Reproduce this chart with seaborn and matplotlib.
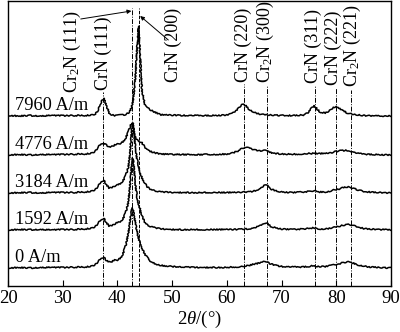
import numpy as np
import pandas as pd
import matplotlib
matplotlib.use("Agg")
import matplotlib.pyplot as plt
import seaborn as sns

# 2θ sampling positions (degrees)
two_theta = [20, 22, 24, 26, 28, 30, 32, 34, 35, 35.5, 36, 36.5, 37, 37.5, 38, 38.5,
             39, 39.5, 40, 40.5, 41, 41.5, 42, 42.3, 42.6, 42.8, 43.0, 43.3, 43.6, 43.9,
             44.2, 44.5, 45, 45.5, 46, 47, 48, 50, 52, 54, 56, 58, 60, 61, 62, 62.5,
             63, 63.5, 64, 65, 66, 66.5, 67, 67.5, 68, 69, 70, 72, 74, 75, 75.5, 76,
             76.5, 77, 78, 79, 79.5, 80, 80.5, 81, 82, 82.5, 83, 84, 85, 86, 88, 90]

# diffracted intensity above each pattern's own baseline (a.u.)
i_0 = [0, 0.5, 0, 0.5, 0.5, 0.5, 0.8, 1, 1.5, 2, 3.5, 6.5, 9.5, 11, 7.5, 6,
       6.5, 8, 8, 9.5, 14, 22, 35, 47, 58, 60, 54, 44, 36, 29,
       24, 20, 14, 10, 7, 4, 2.5, 1.5, 1, 0.5, 0.5, 0.5, 0.5, 1, 1, 1.5,
       1.5, 2, 2.5, 4, 5, 6, 6.5, 5.5, 4, 2.5, 1.5, 1, 1, 1.5, 2, 2,
       1.5, 1.5, 1.5, 2.5, 3, 3.5, 4, 5, 6, 6, 5, 3, 2, 1, 0.5, 0]
i_1592 = [0, 0.5, 0.3, 0.5, 0, 0.5, 0.5, 1, 1.5, 2, 3.5, 7, 10, 12, 7, 4,
          4.5, 6, 7.5, 8.5, 11, 17, 28, 45, 65, 72, 64, 45, 32, 25,
          20, 14, 8, 5, 3.5, 2, 1, 0.5, 0.3, 0.5, 0.3, 0.5, 0.5, 0.5, 0.5, 0.8,
          1, 1, 1, 2, 4, 5.5, 7, 6, 3.5, 2, 1, 0.5, 1, 1.5, 2, 2,
          1.5, 1, 1, 2, 2.5, 3, 3.5, 4.5, 5.5, 5.5, 4.5, 3, 1.5, 1, 0.5, 0]
i_3184 = [0, 0.3, 0.5, 0, 0.5, 0.5, 0.5, 1, 1.5, 2, 3.5, 7, 11, 13, 8, 5,
          5.5, 7, 8, 9.5, 12, 17, 26, 40, 62, 70, 62, 45, 33, 26,
          19, 15, 10, 6, 4, 2, 1, 0.5, 0.5, 0.3, 0.5, 0.5, 0.5, 0.5, 0.5, 0.8,
          0.8, 1, 1, 2, 4, 6, 8, 7, 4, 2, 1, 0.5, 1, 1.5, 2, 2,
          1.5, 1, 1, 2, 3, 3.5, 4, 5, 6, 6, 5, 3, 1.5, 1, 0.5, 0]
i_4776 = [0, 0.5, 0, 0.5, 0.3, 0.5, 0.8, 1, 1.5, 2, 4, 8, 11, 12, 10, 8,
          8.5, 10, 11, 11.5, 13, 17, 23, 28, 32, 30, 24, 17, 15, 14,
          13, 12, 8, 5, 3.5, 2, 1, 0.5, 0.5, 0.3, 0.5, 0.5, 1, 2, 4, 6,
          7, 8, 7, 5, 4, 4.5, 5, 4, 2.5, 1.5, 1, 0.8, 1, 1.5, 1.5, 2,
          1.5, 1.5, 1.5, 2, 3, 3.5, 4, 4.5, 4.5, 4, 3, 1.5, 1, 0.5, 0.3, 0]
i_7960 = [0.5, 0, 0.5, 0, 0.5, 0.3, 0.5, 0.5, 0.8, 1, 2, 6, 14, 18, 10, 3,
          1, 0.5, 0.5, 1, 1, 1.5, 3, 5, 9, 14, 22, 40, 70, 90,
          55, 25, 12, 9, 6, 3.5, 1.2, 0.8, 0.5, 0.5, 0.3, 0.5, 1, 2.5, 7, 10,
          12, 10, 7, 3.5, 2, 1.5, 1.2, 1, 1, 0.8, 0.5, 0.5, 1, 4, 8, 10,
          7, 4, 3, 6, 8.5, 9.5, 8, 6, 3, 2.5, 1.5, 1, 0.5, 0.3, 0, 0]

field_labels = ["0 A/m", "1592 A/m", "3184 A/m", "4776 A/m", "7960 A/m"]
baselines = [18, 56, 93, 131, 170]

# reflection markers
peak_labels = ["Cr$_2$N (111)", "CrN (111)", "CrN (200)", "CrN (220)", "Cr$_2$N (300)",
               "CrN (311)", "CrN (222)", "Cr$_2$N (221)"]
peak_pos = [42.75, 37.45, 43.95, 63.05, 67.3, 76.05, 80.0, 82.6]
label_x = [31.8, 37.5, 50.3, 63.05, 67.1, 75.85, 79.55, 82.95]

sns.set_theme(style="ticks")
plt.rcParams["font.family"] = ["Liberation Serif", "DejaVu Serif"]
plt.rcParams["mathtext.fontset"] = "custom"
plt.rcParams["mathtext.rm"] = "Liberation Serif"
plt.rcParams["mathtext.it"] = "Liberation Serif:italic"

frames = []
for lab, base, vals in zip(field_labels, baselines,
                           [i_0, i_1592, i_3184, i_4776, i_7960]):
    frames.append(pd.DataFrame({"two_theta": two_theta,
                                "intensity": np.asarray(vals) + base,
                                "field": lab}))
df = pd.concat(frames, ignore_index=True)

fig = plt.figure(figsize=(4.0, 3.32), dpi=100)
ax = fig.add_axes([0.02, 0.1386, 0.9575, 0.8584])

sns.lineplot(data=df, x="two_theta", y="intensity", units="field", estimator=None,
             color="black", linewidth=1.1, ax=ax, legend=False, sort=False)
for ln in ax.lines:
    ln.set_sketch_params(scale=0.6, length=2.0, randomness=3.0)

# marker lines
tops = [278, 194, 278, 202, 200, 200, 198, 196]
for name, x, top in zip(peak_labels, peak_pos, tops):
    style = (0, (3.5, 1.5)) if name == "CrN (200)" else (0, (5, 1.5, 1, 1.5))
    ax.plot([x, x], [0, top], color="black", linewidth=0.7, linestyle=style)

label_bottom = [193, 196, 204, 204, 203, 203, 201, 199]
for name, x, yb in zip(peak_labels, label_x, label_bottom):
    ax.text(x, yb, name, rotation=90, ha="center", va="bottom", fontsize=13,
            color="black")

ax.annotate("", xy=(42.55, 275), xytext=(33.3, 267),
            arrowprops=dict(arrowstyle="-|>", lw=0.7, color="black",
                            mutation_scale=6, shrinkA=0, shrinkB=0))
ax.annotate("", xy=(44.15, 270), xytext=(49.3, 246),
            arrowprops=dict(arrowstyle="-|>", lw=0.7, color="black",
                            mutation_scale=6, shrinkA=0, shrinkB=0))

for lab, base in zip(field_labels, baselines):
    ax.text(21.3, base + 10, lab, ha="left", va="center", fontsize=13.2,
            color="black")

ax.set_xlim(20, 90)
ax.set_ylim(0, 285)
ax.set_xticks([20, 30, 40, 50, 60, 70, 80, 90])
ax.set_yticks([])
ax.tick_params(axis="x", direction="in", length=4, width=0.8, labelsize=13.5,
               pad=3, colors="black")
ax.set_xlabel(r"2$\it{\theta}$/(°)", fontsize=13.5, labelpad=1.5, color="black")
ax.set_ylabel("")
for sp in ax.spines.values():
    sp.set_visible(True)
    sp.set_linewidth(1.0)
    sp.set_color("black")

fig.savefig("out.png", dpi=100)
